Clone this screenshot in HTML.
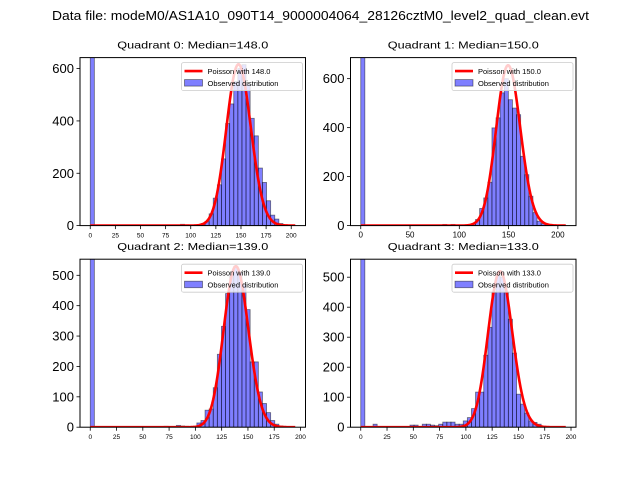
<!DOCTYPE html>
<html><head><meta charset="utf-8"><style>
html,body{margin:0;padding:0;background:#fff;}
svg{display:block;font-family:"Liberation Sans","DejaVu Sans",sans-serif;}
</style></head><body>
<svg id="fig" width="640" height="480" viewBox="0 0 640 480" xmlns="http://www.w3.org/2000/svg">
<rect width="640" height="480" fill="#fff"/>
<text x="320.5" y="20" font-size="13" text-anchor="middle" textLength="537" lengthAdjust="spacingAndGlyphs">Data file: modeM0/AS1A10_090T14_9000004064_28126cztM0_level2_quad_clean.evt</text>
</svg>
<script>
// ---- data ----
const quadrantNames = ["Quadrant 0", "Quadrant 1", "Quadrant 2", "Quadrant 3"];
const medians = [148.0, 150.0, 139.0, 133.0];
const binRangeMax = [204, 208, 195, 195];
const poissonScale = [18800, 20100, 15660, 15030];
const yMaxes = [642, 686, 553, 560];
const xTicks0 = [0,25,50,75,100,125,150,175,200];
const xTicks1 = [0,50,100,150,200];
const yTicksTop = [0,200,400,600];
const yTicksBottom = [0,100,200,300,400,500];
const counts0 = [2000,0,0,0,0,0,0,0,0,0,0,0,0,0,0,0,0,0,0,2,0,0,5,3,0,1,2,8,15,45,105,156,255,390,465,550,600,615,540,410,343,220,165,95,40,25,8,3,1,0];
const counts1 = [2000,0,0,0,0,0,0,0,0,0,0,0,0,0,0,0,0,0,0,0,5,0,5,0,0,2,3,8,25,70,113,177,399,440,542,600,514,480,453,283,208,120,53,18,8,3,1,0,0,0];
const counts2 = [2000,0,0,0,0,0,0,0,0,0,0,0,0,0,0,0,0,0,3,0,0,6,4,3,0,2,14,22,56,60,130,240,332,440,500,530,510,470,387,215,215,116,78,48,22,10,4,1,0,0];
const counts3 = [2000,0,0,10,0,0,0,0,0,0,0,0,7,7,0,10,10,7,5,10,17,17,17,10,10,21,32,62,117,117,240,333,450,505,500,450,360,247,110,77,47,21,16,10,3,0,0,0,0,0];
const allCounts = [counts0, counts1, counts2, counts3];

const NS = "http://www.w3.org/2000/svg";
const svg = document.getElementById("fig");
function mk(tag, attrs, parent){const e=document.createElementNS(NS,tag);for(const k in attrs)e.setAttribute(k,attrs[k]);(parent||svg).appendChild(e);return e;}
function logFact(n){let s=0;for(let i=2;i<=n;i++)s+=Math.log(i);return s;}

const W=225.5,H=168;
const origins=[[80,57.6],[350.5,57.6],[80,259.2],[350.5,259.2]];
for(let q=0;q<4;q++){
  const [x0,y0]=origins[q];
  const counts=allCounts[q];
  const nb=counts.length, rmax=binRangeMax[q], bw=rmax/nb;
  const xmin=-0.05*rmax, xmax=1.05*rmax, ymax=yMaxes[q];
  const X=v=>x0+(v-xmin)/(xmax-xmin)*W;
  const Y=v=>y0+H-v/ymax*H;
  const g=mk("g",{});
  
  
  const cid="clip"+q;
  const cp=mk("clipPath",{id:cid},g);mk("rect",{x:x0,y:y0,width:W,height:H},cp);
  const bars=mk("g",{"clip-path":"url(#"+cid+")"},g);
  for(let k=0;k<nb;k++){
    if(counts[k]<=0)continue;
    const r=mk("rect",{x:X(k*bw),y:Y(counts[k]),width:X((k+1)*bw)-X(k*bw),height:Y(0)-Y(counts[k]),fill:"rgba(0,0,255,0.5)",stroke:"rgba(0,0,0,0.5)","stroke-width":0.8},bars);
    
    
  }
  const lam=medians[q];let pts=[];
  for(let n=0;n<=Math.round(rmax);n++){
    const p=Math.exp(n*Math.log(lam)-lam-logFact(n))*poissonScale[q];
    pts.push(X(n).toFixed(2)+","+Y(p).toFixed(2));
  }
  const pl=mk("polyline",{points:pts.join(" "),fill:"none",stroke:"#ff0000","stroke-width":2.6,"stroke-linejoin":"round"},bars);
  
  
  const fr=mk("rect",{x:x0,y:y0,width:W,height:H,fill:"none",stroke:"#000","stroke-width":1},g);
  
  
  const xt=q==1?xTicks1:xTicks0;
  for(const t of xt){
    mk("line",{x1:X(t),x2:X(t),y1:y0+H,y2:y0+H+3.5,stroke:"#000","stroke-width":0.8},g);
    const tx=mk("text",{x:X(t),y:y0+H+12,"font-size":(q==1?8:6.5),"text-anchor":"middle"},g);
    tx.textContent=t;
    
    
  }
  const yt=q<2?yTicksTop:yTicksBottom;
  for(const t of yt){
    mk("line",{x1:x0-3.5,x2:x0,y1:Y(t),y2:Y(t),stroke:"#000","stroke-width":0.8},g);
    const ty=mk("text",{x:x0-6,y:Y(t)+4.5,"font-size":13,"text-anchor":"end"},g);
    ty.textContent=t;
    
    
  }
  const tt=mk("text",{x:x0+W/2,y:y0-9,"font-size":10.5,"text-anchor":"middle",textLength:151,lengthAdjust:"spacingAndGlyphs"},g);
  tt.textContent=quadrantNames[q]+": Median="+medians[q].toFixed(1);
  
  
  // legend
  const lg=mk("g",{},g);
  
  
  const lx=x0+W-124, ly=y0+5;
  mk("rect",{x:lx,y:ly,width:121,height:28,rx:2,fill:"rgba(255,255,255,0.8)",stroke:"#ccc","stroke-width":0.8},lg);
  mk("line",{x1:lx+3,x2:lx+21,y1:ly+8.5,y2:ly+8.5,stroke:"#ff0000","stroke-width":2.6},lg);
  const l1=mk("text",{x:lx+26,y:ly+11.5,"font-size":7.5},lg);l1.textContent="Poisson with "+medians[q].toFixed(1);
  mk("rect",{x:lx+3,y:ly+17,width:18,height:6.5,fill:"rgba(0,0,255,0.5)",stroke:"rgba(0,0,0,0.5)","stroke-width":0.8},lg);
  const l2=mk("text",{x:lx+26,y:ly+23.5,"font-size":7.5},lg);l2.textContent="Observed distribution";
}
</script>
</body></html>
